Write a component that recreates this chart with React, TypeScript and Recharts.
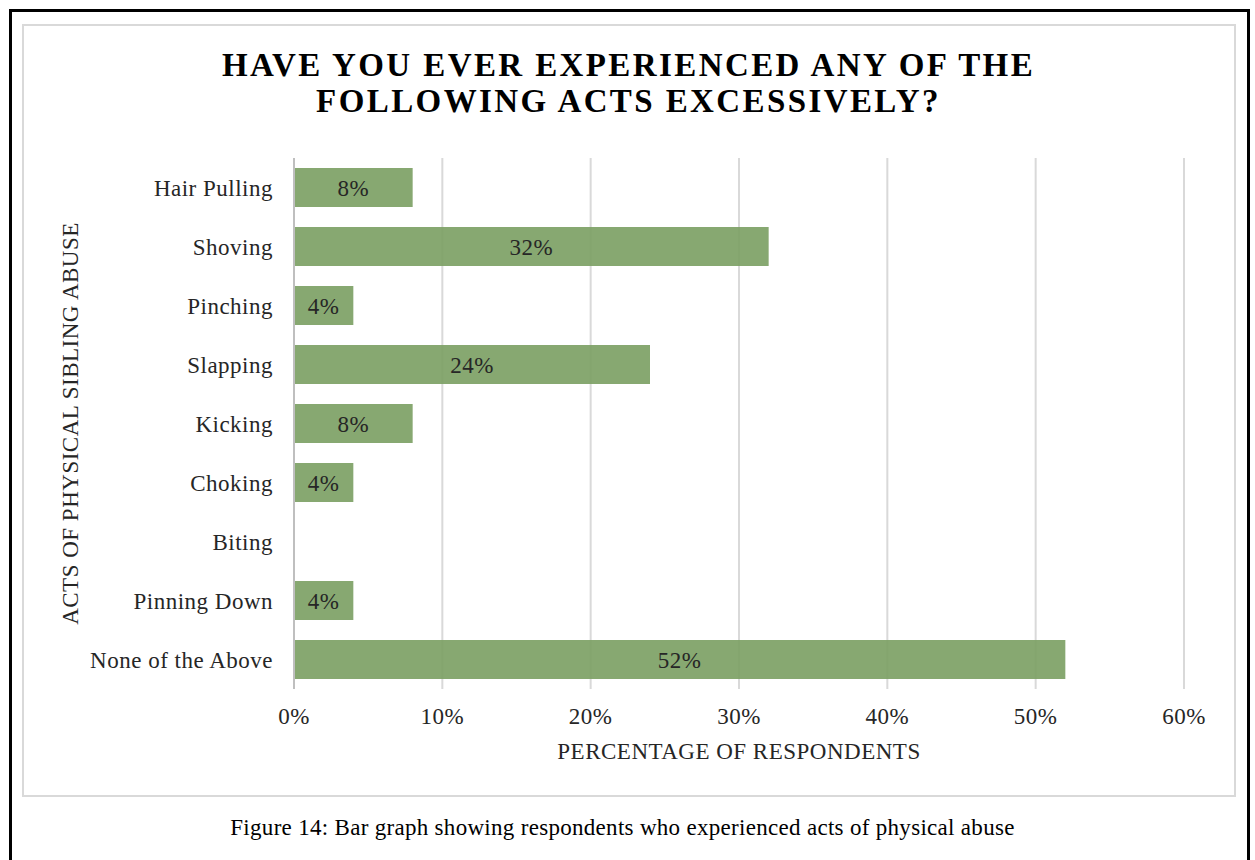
import { BarChart, Bar, XAxis, YAxis, CartesianGrid, LabelList, Label } from 'recharts';

const categories = [
  'Hair Pulling',
  'Shoving',
  'Pinching',
  'Slapping',
  'Kicking',
  'Choking',
  'Biting',
  'Pinning Down',
  'None of the Above',
];
const percentages = [8, 32, 4, 24, 8, 4, 0, 4, 52];
const xTicks = [0, 10, 20, 30, 40, 50, 60];

const data = categories.map((name, i) => ({ name, value: percentages[i] }));

const serif = '"Liberation Serif", "Times New Roman", serif';
const textColor = '#262626';

const YTitle = (props: any) => {
  const vb = props.viewBox || {};
  const cx = (vb.x ?? 94) - 24;
  const cy = (vb.y ?? 158) + (vb.height ?? 531) / 2;
  return (
    <text
      x={0}
      y={0}
      transform={`translate(${cx}, ${cy}) rotate(-90)`}
      textAnchor="middle"
      dominantBaseline="central"
      fontFamily={serif}
      fontSize={23}
      letterSpacing={0.5}
      fill={textColor}
    >
      ACTS OF PHYSICAL SIBLING ABUSE
    </text>
  );
};

export default function App() {
  return (
    <div
      style={{
        position: 'absolute',
        left: 0,
        top: 0,
        width: 1255,
        height: 860,
        overflow: 'hidden',
        background: '#fff',
        fontFamily: serif,
      }}
    >
      <div
        style={{
          position: 'absolute',
          left: 9,
          top: 9,
          width: 1241,
          height: 900,
          border: '3px solid #000',
          boxSizing: 'border-box',
        }}
      />
      <div
        style={{
          position: 'absolute',
          left: 22,
          top: 24,
          width: 1214,
          height: 773,
          border: '2px solid #d9d9d9',
          boxSizing: 'border-box',
        }}
      />
      <div
        style={{
          position: 'absolute',
          left: 0,
          top: 47,
          width: 1257,
          textAlign: 'center',
          fontWeight: 'bold',
          fontSize: 33,
          lineHeight: '36px',
          letterSpacing: 2.4,
          color: '#000',
        }}
      >
        HAVE YOU EVER EXPERIENCED ANY OF THE
        <br />
        FOLLOWING ACTS EXCESSIVELY?
      </div>
      <div style={{ position: 'absolute', left: 0, top: 0 }}>
        <BarChart
          width={1255}
          height={860}
          data={data}
          layout="vertical"
          barCategoryGap="17%"
          margin={{ top: 158, right: 71, bottom: 101, left: 94 }}
        >
          <CartesianGrid horizontal={false} stroke="#d9d9d9" strokeWidth={2} />
          <XAxis
            type="number"
            domain={[0, 60]}
            ticks={xTicks}
            tickFormatter={(v: number) => `${v}%`}
            axisLine={false}
            tickLine={false}
            tickSize={0}
            tickMargin={19}
            height={70}
            tick={{ fontFamily: serif, fontSize: 23, fill: textColor, letterSpacing: 0.5 }}
          >
            <Label
              value="PERCENTAGE OF RESPONDENTS"
              position="insideBottom"
              offset={0}
              style={{ fontFamily: serif, fontSize: 23, fill: textColor, letterSpacing: 0.5 }}
            />
          </XAxis>
          <YAxis
            type="category"
            dataKey="name"
            width={200}
            axisLine={{ stroke: '#bfbfbf', strokeWidth: 2 }}
            tickLine={false}
            tickSize={0}
            tickMargin={21}
            interval={0}
            tick={{ fontFamily: serif, fontSize: 23, fill: textColor, letterSpacing: 0.5 }}
          >
            <Label content={<YTitle />} />
          </YAxis>
          <Bar dataKey="value" fill="#7a9e62" fillOpacity={0.9} isAnimationActive={false}>
            <LabelList
              dataKey="value"
              position="center"
              formatter={(v: any) => (v ? `${v}%` : '')}
              style={{ fontFamily: serif, fontSize: 23, fill: textColor, letterSpacing: 0.5 }}
            />
          </Bar>
        </BarChart>
      </div>
      <div
        style={{
          position: 'absolute',
          left: 0,
          top: 814,
          width: 1245,
          textAlign: 'center',
          fontSize: 23,
          lineHeight: '28px',
          letterSpacing: 0.3,
          color: '#000',
        }}
      >
        Figure 14: Bar graph showing respondents who experienced acts of physical abuse
      </div>
    </div>
  );
}
